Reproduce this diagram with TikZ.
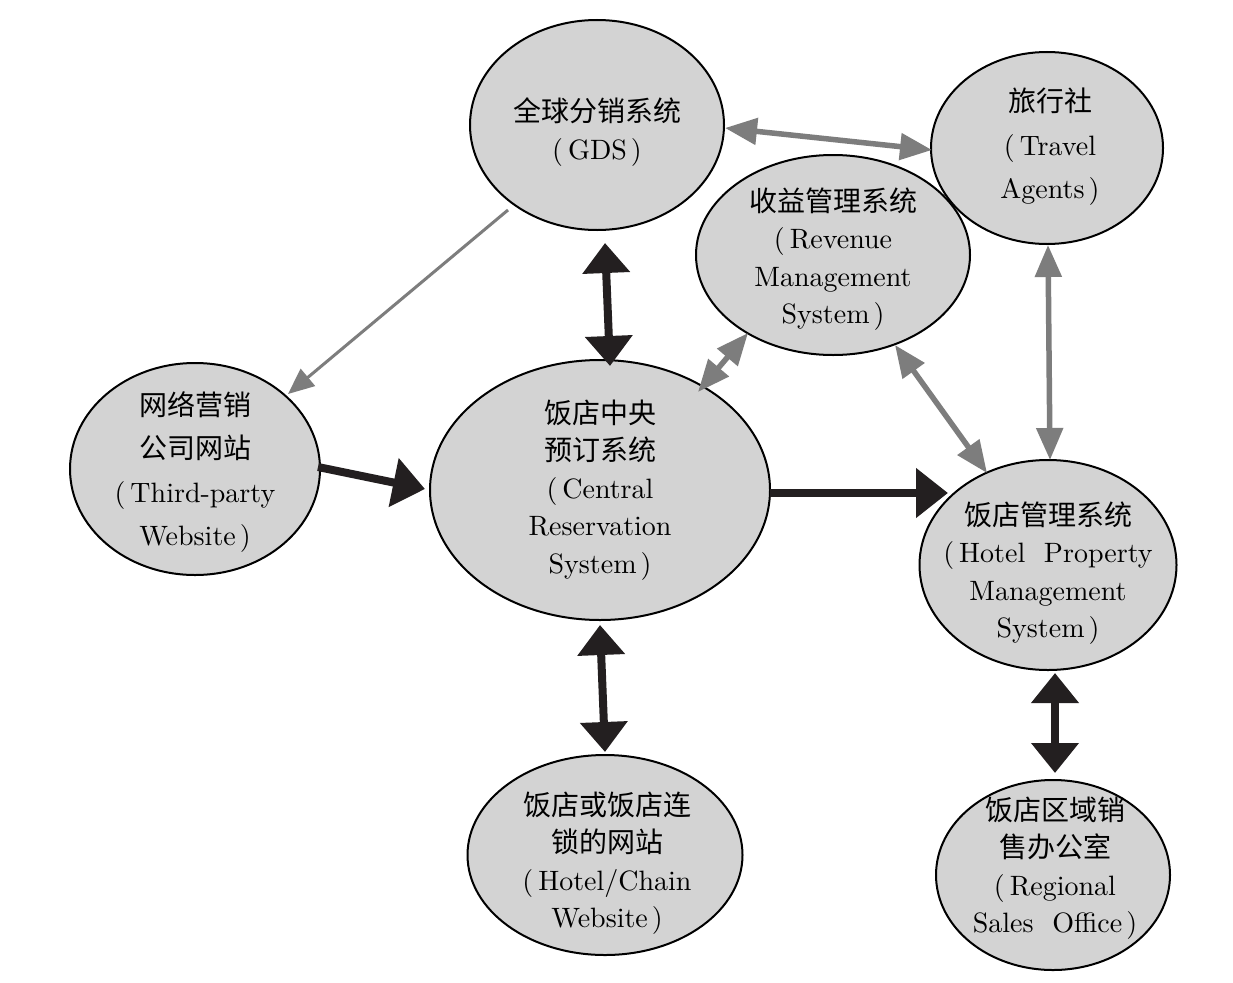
\documentclass[tikz,border=0pt]{standalone}
\usepackage{fontspec}
\setmainfont{lmroman10-regular.otf}
\newfontfamily\cjk{Noto Sans CJK SC}
\usetikzlibrary{shapes.geometric,arrows.meta}
\definecolor{fillg}{RGB}{211,211,211}
\definecolor{arrg}{RGB}{125,125,125}
\definecolor{arrk}{RGB}{35,31,32}
\newcommand\zlp{(\hspace{5pt}}
\newcommand\zrp{\hspace{4pt})}
\begin{document}
\begin{tikzpicture}[x=1pt,y=-1pt,
  ell/.style={ellipse,draw=black,line width=2pt,fill=fillg,inner sep=0pt},
  txt/.style={align=center,font=\fontsize{28}{37.5}\selectfont,inner sep=0pt},
  txtw/.style={align=center,font=\fontsize{28}{43.5}\selectfont,inner sep=0pt},
  blk/.style={draw=arrk,line width=8pt,-{Triangle[length=32pt,width=48pt]}},
  blkd/.style={draw=arrk,line width=8pt,{Triangle[length=30pt,width=46pt]}-{Triangle[length=30pt,width=46pt]}},
  gryd/.style={draw=arrg,line width=5.5pt,{Triangle[length=32pt,width=26pt]}-{Triangle[length=32pt,width=26pt]}},
  gry/.style={draw=arrg,line width=3pt,-{Triangle[length=26pt,width=22pt]}}]
\useasboundingbox (0,0) rectangle (1233,982);
\fill[white] (0,0) rectangle (1233,982);

\node[ell,minimum width=254pt,minimum height=210pt] (gds) at (597,125) {};
\node[ell,minimum width=232pt,minimum height=192pt] (ta) at (1047,148) {};
\node[ell,minimum width=274pt,minimum height=200pt] (rev) at (833,255) {};
\node[ell,minimum width=250pt,minimum height=212pt] (tp) at (195,469) {};
\node[ell,minimum width=340pt,minimum height=260pt] (crs) at (600,490) {};
\node[ell,minimum width=257pt,minimum height=210pt] (pms) at (1048,565) {};
\node[ell,minimum width=275pt,minimum height=200pt] (hw) at (605,855) {};
\node[ell,minimum width=234pt,minimum height=190pt] (rs) at (1053,875) {};

\node[txt] (gdst) at (597,132) {{\cjk 全球分销系统}\\\zlp GDS\zrp};
\node[txtw] (tat) at (1050,147) {{\cjk 旅行社}\\\zlp Travel\\Agents\zrp};
\node[txt] (revt) at (833,259) {{\cjk 收益管理系统}\\\zlp Revenue\\Management\\System\zrp};
\node[txtw] (tpt) at (195,472) {{\cjk 网络营销}\\{\cjk 公司网站}\\\zlp Third-party\\Website\zrp};
\node[txt] (crst) at (600,490) {{\cjk 饭店中央}\\{\cjk 预订系统}\\\zlp Central\\Reservation\\System\zrp};
\node[txt] (pmst) at (1048,573) {{\cjk 饭店管理系统}\\\zlp Hotel\ \ Property\\Management\\System\zrp};
\node[txt] (hwt) at (607,863) {{\cjk 饭店或饭店连}\\{\cjk 锁的网站}\\\zlp Hotel/Chain\\Website\zrp};
\node[txt] (rst) at (1055,868) {{\cjk 饭店区域销}\\{\cjk 售办公室}\\\zlp Regional\\Sales\ \ Office\zrp};

\draw[gryd] ([shift={(128,3)}]gds.center) -- ([shift={(-115,2)}]ta.center);
\draw[gry] ([shift={(-89,85)}]gds.center) -- ([shift={(93,-75)}]tp.center);
\draw[blkd] ([shift={(8,118)}]gds.center) -- ([shift={(10,-124)}]crs.center);
\draw[gryd] ([shift={(98,-98)}]crs.center) -- ([shift={(-85,78)}]rev.center);
\draw[gryd] ([shift={(62,90)}]rev.center) -- ([shift={(-61,-92)}]pms.center);
\draw[gryd] ([shift={(1,97)}]ta.center) -- ([shift={(2,-105)}]pms.center);
\draw[blk] ([shift={(123,-2)}]tp.center) -- ([shift={(-175,-1)}]crs.center);
\draw[blk] ([shift={(170,3)}]crs.center) -- ([shift={(-100,-72)}]pms.center);
\draw[blkd] ([shift={(0,135)}]crs.center) -- ([shift={(0,-103)}]hw.center);
\draw[blkd] ([shift={(7,108)}]pms.center) -- ([shift={(2,-102)}]rs.center);
\end{tikzpicture}
\end{document}
